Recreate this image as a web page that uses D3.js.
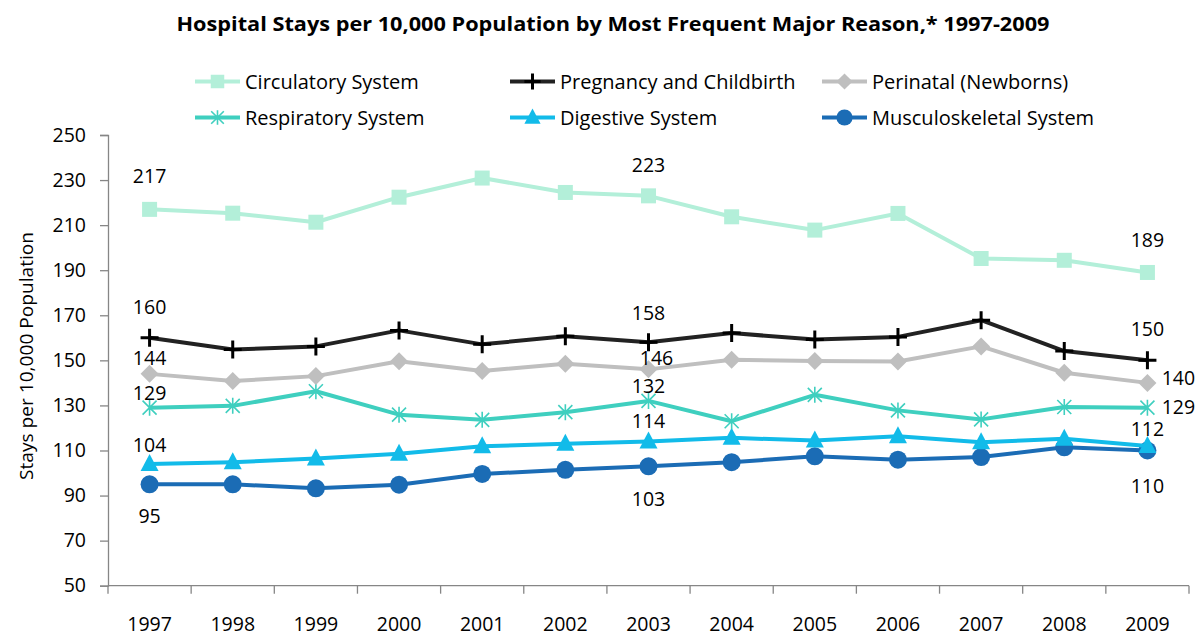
<!DOCTYPE html>
<meta charset="utf-8">
<style>
  body { margin: 0; background: #fff; }
  svg text { font-family: "Open Sans", sans-serif; fill: #000; }
</style>
<svg width="1202" height="635"></svg>
<script src="https://d3js.org/d3.v7.min.js"></script>
<script>

var years = [1997, 1998, 1999, 2000, 2001, 2002, 2003, 2004, 2005, 2006, 2007, 2008, 2009]

var circulatory = [217, 215.3, 211.3, 222.4, 230.9, 224.5, 223, 213.7, 207.8, 215.2, 195.2, 194.4, 189]
var pregnancy   = [160, 154.8, 156.2, 163.3, 157.1, 160.7, 158, 162.1, 159.2, 160.4, 167.8, 154.1, 150]
var perinatal   = [144, 140.8, 143, 149.6, 145.3, 148.5, 146, 150.3, 149.7, 149.5, 156.2, 144.5, 140]
var respiratory = [129, 129.8, 136.3, 125.9, 123.6, 127, 132, 123, 134.7, 127.8, 123.8, 129.3, 129]
var digestive   = [104, 104.8, 106.4, 108.6, 111.9, 113, 114, 115.6, 114.4, 116.3, 113.7, 115.2, 112]
var musculo     = [95, 95, 93.2, 94.8, 99.6, 101.4, 103, 104.8, 107.4, 105.9, 107.1, 111.4, 110]

var seriesNames = ['Circulatory System', 'Pregnancy and Childbirth', 'Perinatal (Newborns)',
                   'Respiratory System', 'Digestive System', 'Musculoskeletal System']
var seriesValues = [circulatory, pregnancy, perinatal, respiratory, digestive, musculo]
var seriesColors = ['#b3efd9', '#222222', '#bfbfbf', '#3fcfbf', '#12bbe9', '#1b6cb5']
var markerColors = ['#b3efd9', '#000000', '#bfbfbf', '#3fcfbf', '#12bbe9', '#1b6cb5']
var markerTypes  = ['square', 'plus', 'diamond', 'asterisk', 'triangle', 'circle']

var yTicks = [50, 70, 90, 110, 130, 150, 170, 190, 210, 230, 250]

// which points carry a value label (series, year index)
var labelPoints = [
  [0, 0], [1, 0], [2, 0], [3, 0], [4, 0], [5, 0],
  [0, 6], [1, 6], [2, 6], [3, 6], [4, 6], [5, 6],
  [0, 12], [1, 12], [2, 12], [3, 12], [4, 12], [5, 12]
]
// label nudges from the point, in pixels (layout only)
var labelNudge = [
  [0, -33], [0, -31], [0, -16], [0, -15], [0, -19], [0, 32],
  [0, -31], [0, -29], [8, -11], [0, -15], [0, -20], [0, 33],
  [0, -32], [0, -31], [31, -5], [31, -1], [0, -17], [0, 35]
]

var svg = d3.select('svg')

var x = d3.scaleBand().domain(years).range([108, 1189]).padding(0)
var y = d3.scaleLinear().domain([50, 250]).range([585.7, 135])
var cx = function (i) { return x(years[i]) + x.bandwidth() / 2 }

// title
svg.append('text')
  .attr('x', 613).attr('y', 31)
  .attr('text-anchor', 'middle')
  .attr('font-size', 20).attr('font-weight', 'bold')
  .attr('textLength', 873).attr('lengthAdjust', 'spacingAndGlyphs')
  .text('Hospital Stays per 10,000  Population by Most Frequent Major Reason,* 1997-2009')

// axes
var yAxis = d3.axisLeft(y).tickValues(yTicks).tickSize(8).tickPadding(14)
var gy = svg.append('g').attr('transform', 'translate(108,0)').call(yAxis)
gy.selectAll('text').attr('font-size', 19.5)

var xAxis = d3.axisBottom(x).tickSize(0).tickPadding(31)
var gx = svg.append('g').attr('transform', 'translate(0,585.7)').call(xAxis)
gx.selectAll('text').attr('font-size', 19.5)
gx.select('.domain').remove()
gx.append('path').attr('d', 'M108,0H1189').attr('stroke', '#868686').attr('stroke-width', 1.3)
gx.selectAll('.edge')
  .data(years.concat(['end']))
  .enter().append('line')
    .attr('class', 'edge')
    .attr('x1', function (d) { return d === 'end' ? 1189 : x(d) })
    .attr('x2', function (d) { return d === 'end' ? 1189 : x(d) })
    .attr('y1', 0).attr('y2', 8)
    .attr('stroke', '#868686').attr('stroke-width', 1.3)

gy.select('.domain').attr('stroke', '#868686').attr('stroke-width', 1.3)
gy.selectAll('.tick line').attr('stroke', '#868686').attr('stroke-width', 1.3)

svg.append('text')
  .attr('transform', 'translate(33,356) rotate(-90)')
  .attr('text-anchor', 'middle')
  .attr('font-size', 18)
  .attr('textLength', 248).attr('lengthAdjust', 'spacingAndGlyphs')
  .text('Stays per 10,000 Population')

// markers
function drawMarker(g, type, color, px, py, k) {
  k = k || 1
  if (type === 'square') {
    g.append('rect').attr('x', px - 7.5 * k).attr('y', py - 7.5 * k).attr('width', 15 * k).attr('height', 15 * k).attr('fill', color)
  } else if (type === 'plus') {
    g.append('path').attr('d', 'M' + (px - 9 * k) + ',' + py + 'H' + (px + 9 * k) + 'M' + px + ',' + (py - 9 * k) + 'V' + (py + 9 * k))
      .attr('stroke', color).attr('stroke-width', 3).attr('fill', 'none')
  } else if (type === 'diamond') {
    g.append('path').attr('d', 'M' + px + ',' + (py - 9 * k) + 'L' + (px + 9 * k) + ',' + py + 'L' + px + ',' + (py + 9 * k) + 'L' + (px - 9 * k) + ',' + py + 'Z')
      .attr('fill', color)
  } else if (type === 'asterisk') {
    var a = 7 * k
    g.append('path').attr('d', 'M' + (px - a) + ',' + (py - a) + 'L' + (px + a) + ',' + (py + a) +
        'M' + (px - a) + ',' + (py + a) + 'L' + (px + a) + ',' + (py - a) +
        'M' + px + ',' + (py - a - 1) + 'V' + (py + a + 1))
      .attr('stroke', color).attr('stroke-width', 1.6).attr('fill', 'none')
  } else if (type === 'triangle') {
    g.append('path').attr('d', 'M' + px + ',' + (py - 10 * k) + 'L' + (px + 9 * k) + ',' + (py + 7 * k) + 'L' + (px - 9 * k) + ',' + (py + 7 * k) + 'Z')
      .attr('fill', color)
  } else if (type === 'circle') {
    g.append('circle').attr('cx', px).attr('cy', py).attr('r', 9 * k).attr('fill', color)
  }
}

var line = d3.line()
  .x(function (d, i) { return cx(i) })
  .y(function (d) { return y(d) })

// draw bottom series first so the top ones sit above
for (var s = seriesValues.length - 1; s >= 0; s--) {
  var g = svg.append('g').attr('class', 'series')
  g.append('path')
    .datum(seriesValues[s])
    .attr('d', line)
    .attr('fill', 'none')
    .attr('stroke', seriesColors[s])
    .attr('stroke-width', 4)
    .attr('stroke-linejoin', 'round')
  seriesValues[s].forEach(function (v, i) {
    drawMarker(g, markerTypes[s], markerColors[s], cx(i), y(v))
  })
}

// value labels
svg.append('g').selectAll('text')
  .data(labelPoints)
  .enter().append('text')
    .attr('x', function (d, j) { return cx(d[1]) + labelNudge[j][0] })
    .attr('y', function (d, j) { return y(seriesValues[d[0]][d[1]]) + labelNudge[j][1] })
    .attr('dy', '0.36em')
    .attr('text-anchor', 'middle')
    .attr('font-size', 19.5)
    .text(function (d) { return Math.round(seriesValues[d[0]][d[1]]) })

// legend
var legendCols = [245, 560, 872]
var legend = svg.append('g')
seriesNames.forEach(function (name, k) {
  var tx = legendCols[k % 3]
  var ty = k < 3 ? 81.5 : 117.5
  var lg = legend.append('g')
  lg.append('path').attr('d', 'M' + (tx - 50) + ',' + ty + 'H' + (tx - 5))
    .attr('stroke', seriesColors[k]).attr('stroke-width', 4)
  drawMarker(lg, markerTypes[k], markerColors[k], tx - 27.5, ty, 0.9)
  lg.append('text').attr('x', tx).attr('y', ty).attr('dy', '0.36em')
    .attr('font-size', 20)
    .text(name)
})
</script>
